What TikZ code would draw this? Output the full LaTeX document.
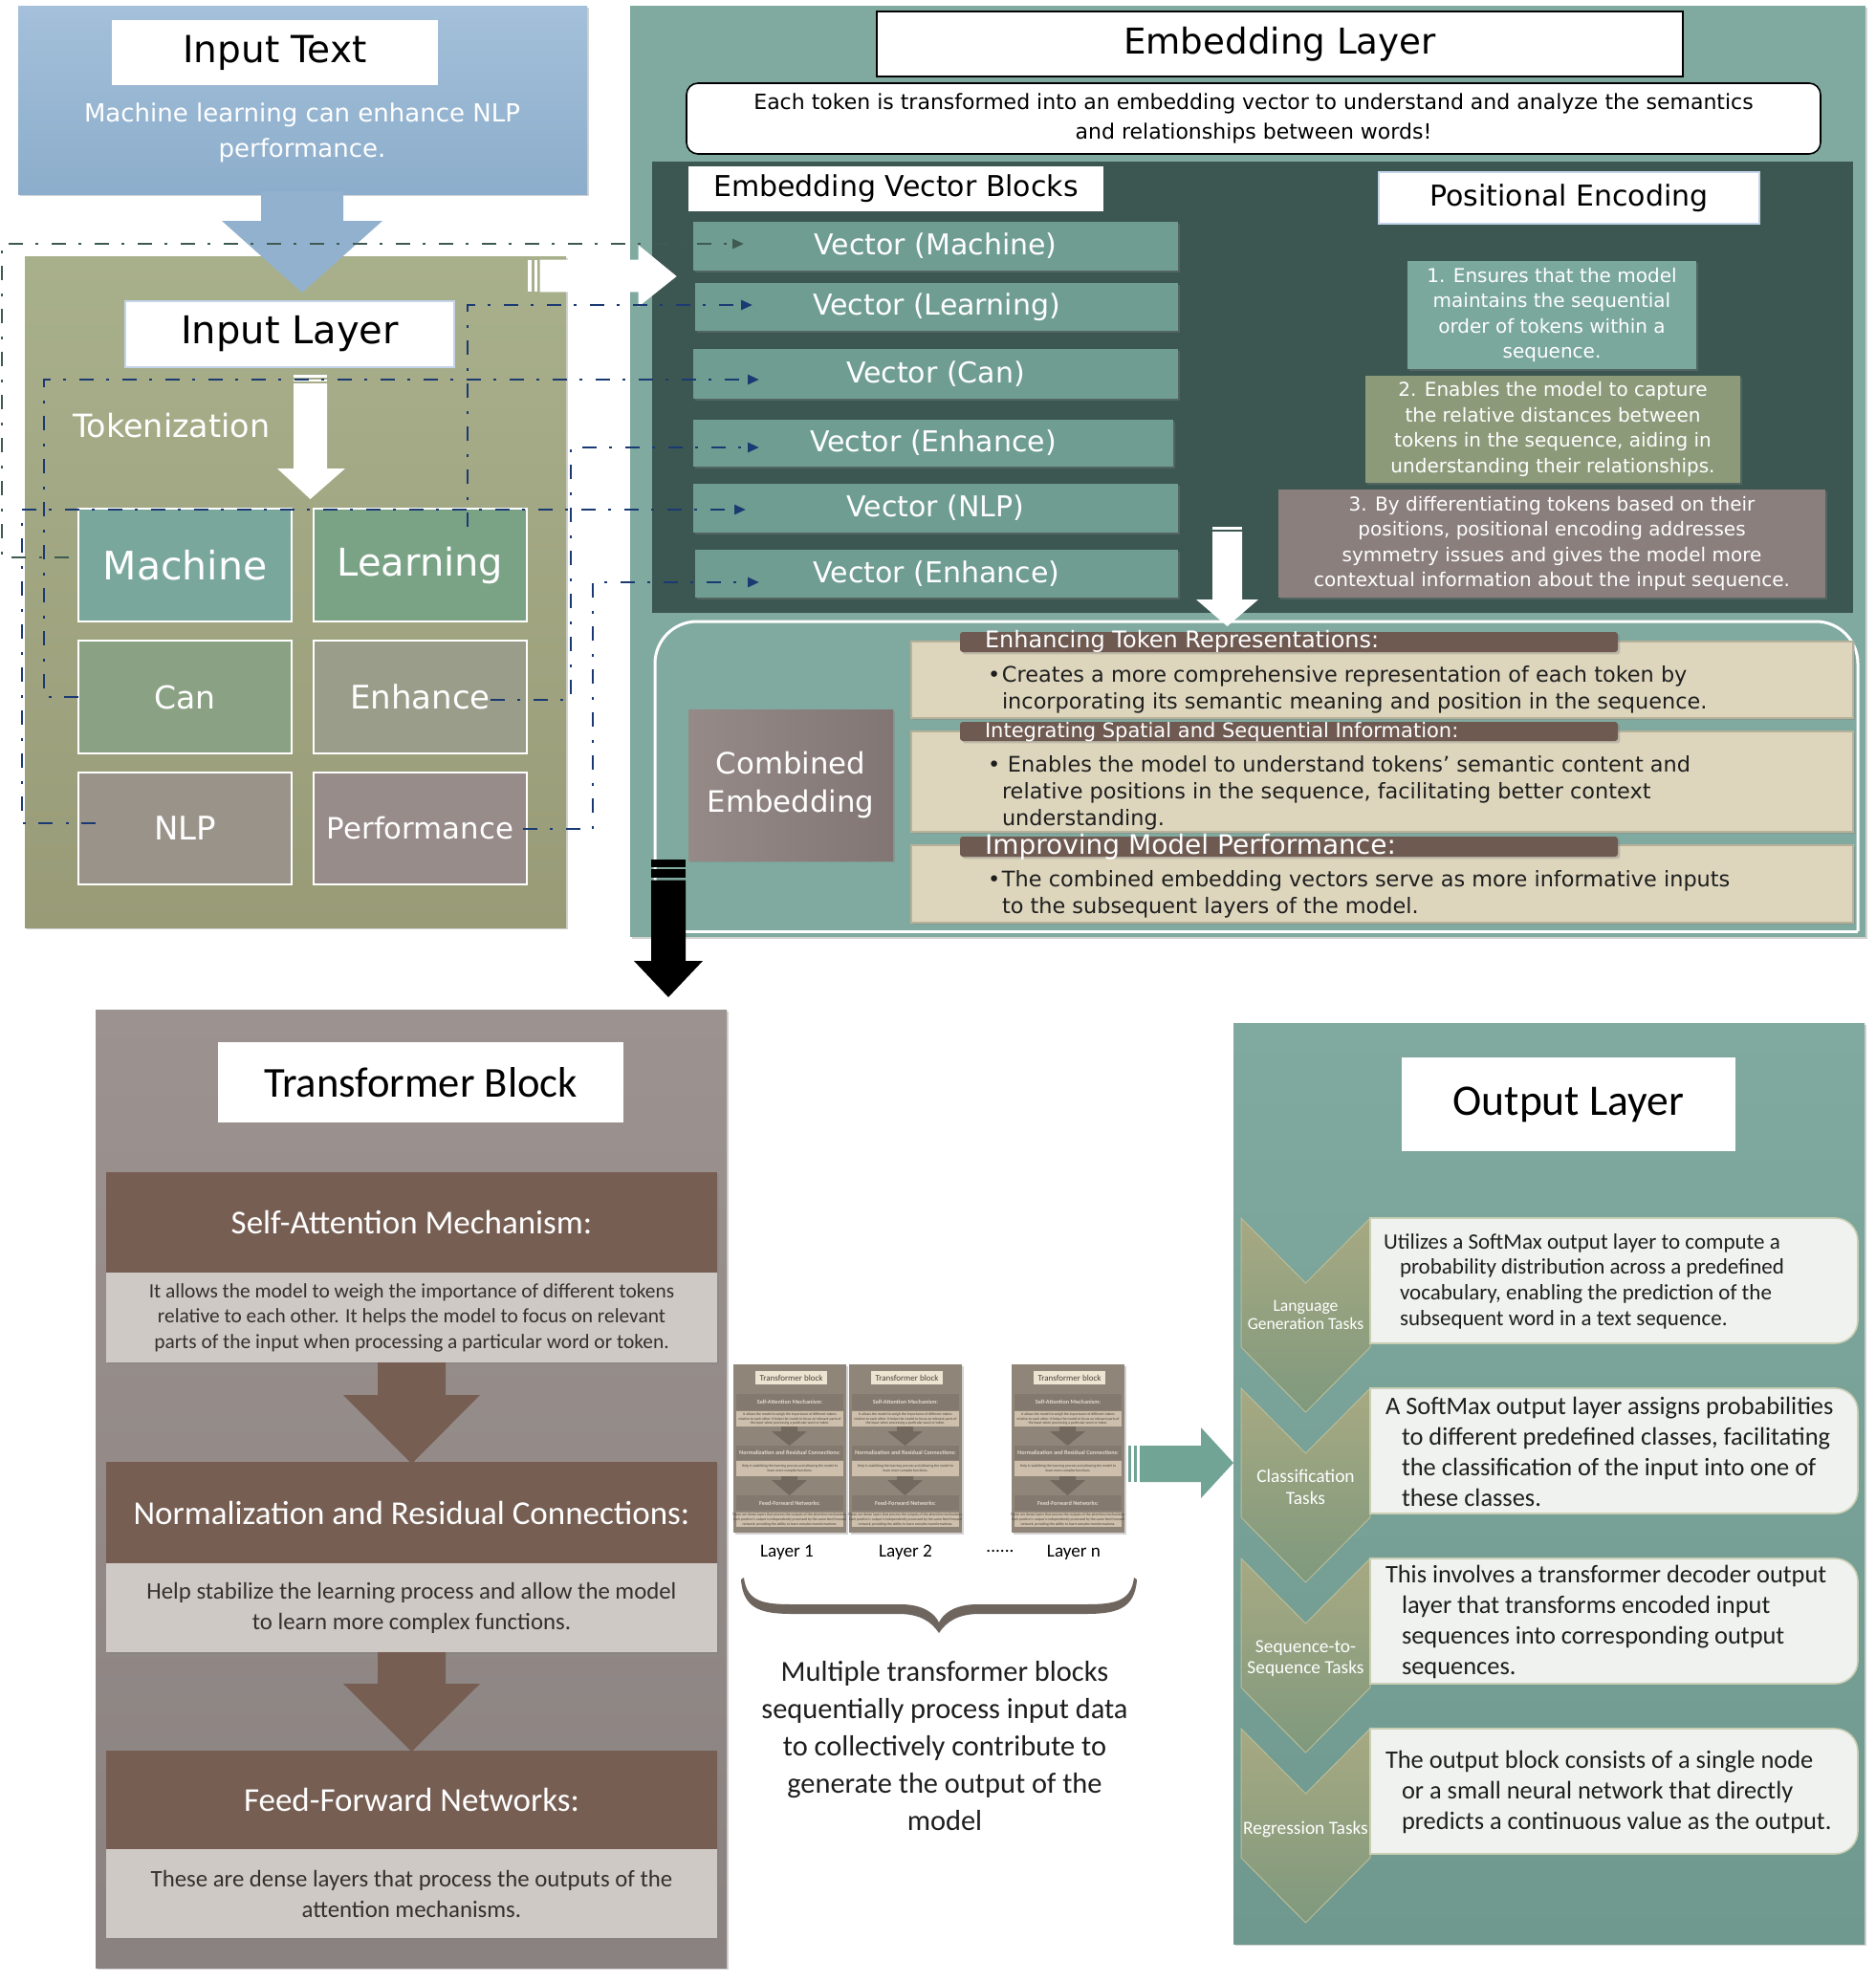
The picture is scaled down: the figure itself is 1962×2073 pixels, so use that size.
\documentclass[tikz,border=0pt]{standalone}
\usepackage{fontspec}
\setmainfont{DejaVu Sans}
\newfontfamily\dv{DejaVu Sans}
\newfontfamily\cb{Carlito}
\usetikzlibrary{fit,shadows,arrows.meta}
\newcommand\fsz[2]{\fontsize{#1}{#2}\selectfont}
\definecolor{blueT}{HTML}{A4C0DA}
\definecolor{blueB}{HTML}{8CADCB}
\definecolor{blueA}{HTML}{92B1CE}
\definecolor{ltblue}{HTML}{C3D3E8}
\definecolor{oliveT}{HTML}{A8B08B}
\definecolor{oliveB}{HTML}{999B77}
\definecolor{cMach}{HTML}{79A79C}
\definecolor{cLearn}{HTML}{7AA386}
\definecolor{cCan}{HTML}{8AA283}
\definecolor{cEnh}{HTML}{9A9D89}
\definecolor{cNLP}{HTML}{9A938A}
\definecolor{cPerf}{HTML}{978C8A}
\definecolor{embT}{HTML}{80AA9F}
\definecolor{darkP}{HTML}{3C5751}
\definecolor{vecC}{HTML}{6F9D91}
\definecolor{peA}{HTML}{7AA89D}
\definecolor{peB}{HTML}{8D9A7A}
\definecolor{peC}{HTML}{8A7F7D}
\definecolor{combL}{HTML}{968A88}
\definecolor{combR}{HTML}{827674}
\definecolor{beige}{HTML}{DDD6BD}
\definecolor{beigeB}{HTML}{B8B199}
\definecolor{hdrBr}{HTML}{6F5A51}
\definecolor{trT}{HTML}{9C9390}
\definecolor{trB}{HTML}{8A8280}
\definecolor{brn}{HTML}{765E53}
\definecolor{lgray}{HTML}{CFC9C6}
\definecolor{bodyT}{HTML}{35302D}
\definecolor{thBg}{HTML}{8F8579}
\definecolor{thHd}{HTML}{84796E}
\definecolor{thBd}{HTML}{CDBFAB}
\definecolor{thTi}{HTML}{EEE4D2}
\definecolor{thAr}{HTML}{74695F}
\definecolor{thTx}{HTML}{4A4038}
\definecolor{thHt}{HTML}{E2DACD}
\definecolor{braceC}{HTML}{6E655F}
\definecolor{tealA}{HTML}{72A496}
\definecolor{outT}{HTML}{80A99F}
\definecolor{outB}{HTML}{6F998E}
\definecolor{chT}{HTML}{A7A982}
\definecolor{chB}{HTML}{7F997D}
\definecolor{chD}{HTML}{B9BC98}
\definecolor{obox}{HTML}{F0F2F0}
\definecolor{oboxB}{HTML}{C9CFB3}
\definecolor{navy}{HTML}{1B3A73}
\definecolor{gline}{HTML}{3E5A51}
\definecolor{txtD}{HTML}{1E1E1E}

% box (fit) + centred text node: #1 box opts, #2 fit coords, #3 name, #4 text opts, #5 text
\newcommand\bxt[5]{\node[fit={#2}, #1] (#3) {};\node[#4] (#3T) at (#3.center) {#5};}

\newcommand\mkthumb[2]{%
\begin{scope}[shift={(#1,0)}]
\node[fit={(0,1427) (118,1603)}, fill=thBg, shd] (#2) {};
\bxt{fill=thTi}{(23,1434) (98,1448)}{#2t}{font=\cb\fsz{4.5}{5}, text=thTx}{Transformer block}
\bxt{fill=thHd}{(3,1458) (115,1475)}{#2h1}{font=\cb\bfseries\fsz{3.1}{4}, text=thHt}{Self-Attention Mechanism:}
\bxt{fill=thBd}{(3,1476) (115,1492)}{#2b1}{font=\cb\fsz{1.9}{2.3}, text=thTx, align=center}{It allows the model to weigh the importance of different tokens\\relative to each other. It helps the model to focus on relevant parts of\\the input when processing a particular word or token.}
\fill[thAr] (50,1492) -- (67,1492) -- (67,1497) -- (77,1497) -- (58.5,1512) -- (40,1497) -- (50,1497) -- cycle;
\bxt{fill=thHd}{(3,1512) (115,1527)}{#2h2}{font=\cb\bfseries\fsz{3.1}{4}, text=thHt}{Normalization and Residual Connections:}
\bxt{fill=thBd}{(3,1528) (115,1544)}{#2b2}{font=\cb\fsz{1.9}{2.3}, text=thTx, align=center}{Help in stabilizing the learning process and allowing the model to\\learn more complex functions.}
\fill[thAr] (50,1544) -- (67,1544) -- (67,1548) -- (77,1548) -- (58.5,1564) -- (40,1548) -- (50,1548) -- cycle;
\bxt{fill=thHd}{(3,1564) (115,1580)}{#2h3}{font=\cb\bfseries\fsz{3.1}{4}, text=thHt}{Feed-Forward Networks:}
\bxt{fill=thBd}{(3,1582) (115,1597)}{#2b3}{font=\cb\fsz{1.9}{2.3}, text=thTx, align=center}{These are dense layers that process the outputs of the attention mechanisms.\\Each position's output is independently processed by the same feed-forward\\network, providing the ability to learn complex transformations.}
\end{scope}}

\tikzset{
  shd/.style={drop shadow={shadow xshift=1.2pt, shadow yshift=-1.2pt, opacity=0.35}},
  tokbox/.style={draw=white, line width=1.2pt},
  vec/.style={fill=vecC, shd},
  vect/.style={text=white, font=\dv\fsz{15}{18}},
  pebox/.style={shd},
  pet/.style={text=white, font=\dv\fsz{10}{13.3}, align=center},
  bbox/.style={fill=beige, draw=beigeB, line width=0.8pt, shd},
  hdr/.style={fill=hdrBr, rounded corners=1.5pt, shd},
  hdrtext/.style={anchor=west, text=white},
  bodytext/.style={anchor=west, font=\dv\fsz{11.2}{14}, align=left, text=txtD},
  trhdr/.style={fill=brn, shd},
  trht/.style={text=white, font=\cb\fsz{17.5}{20}},
  trbody/.style={fill=lgray, shd},
  trbt/.style={text=bodyT, align=center},
  chev/.style={draw=chD, line width=0.5pt, top color=chT, bottom color=chB},
  obx/.style={fill=obox, draw=oboxB, line width=0.8pt},
  otext/.style={anchor=west, text=txtD, align=left},
  chlab/.style={text=white, align=center},
  gdash/.style={draw=gline, line width=1.35pt, dash pattern=on 7.5pt off 6.5pt on 1.5pt off 7pt, -{Triangle[length=6pt,width=5pt]}},
  ndash/.style={draw=navy, line width=1.35pt, dash pattern=on 7.5pt off 6.5pt on 1.5pt off 7pt, -{Triangle[length=6pt,width=5pt]}},
}

\begin{document}
\begin{tikzpicture}[x=0.5pt,y=-0.5pt, every node/.style={inner sep=0pt, outer sep=0pt}]
\useasboundingbox (0,0) rectangle (1962,2073);
\fill[white] (0,0) rectangle (1962,2073);

% ---------- Input Text ----------
\node[fit={(19,6) (614,203)}, top color=blueT, bottom color=blueB, shd] (inText) {};
\bxt{fill=white}{(117,21) (458,89)}{inTitle}{font=\dv\fsz{19.5}{23}}{Input Text}
\node[font=\dv\fsz{13}{18.5}, text=white, align=center] (inSent) at (316,139) {Machine learning can enhance NLP\\performance.};

% ---------- Input Layer ----------
\node[fit={(26,268) (592,970)}, top color=oliveT, bottom color=oliveB, shd] (inLayer) {};
\fill[blueA] (273,200) -- (359,200) -- (359,231) -- (400,231) -- (316,306) -- (232,231) -- (273,231) -- cycle;
\bxt{fill=white, draw=ltblue, line width=0.8pt}{(131,315) (475,384)}{ilTitle}{font=\dv\fsz{20}{24}}{Input Layer}
\fill[white] (307,392) rectangle (342,394.5);
\fill[white] (307,397) rectangle (342,399);
\fill[white] (307,401) -- (342,401) -- (342,490) -- (361,490) -- (324.5,522) -- (290,490) -- (307,490) -- cycle;
\node[anchor=west, font=\dv\fsz{16.7}{20}, text=white] (tok) at (76,445) {Tokenization};

\bxt{tokbox, fill=cMach}{(82,532) (305,650)}{tMach}{text=white, font=\dv\fsz{20.5}{24}}{Machine}
\bxt{tokbox, fill=cLearn}{(328,532) (551,650)}{tLearn}{text=white, font=\dv\fsz{20}{24}}{Learning}
\bxt{tokbox, fill=cCan}{(82,670) (305,788)}{tCan}{text=white, font=\dv\fsz{16.5}{20}}{Can}
\bxt{tokbox, fill=cEnh}{(328,670) (551,788)}{tEnh}{text=white, font=\dv\fsz{17}{20}}{Enhance}
\bxt{tokbox, fill=cNLP}{(82,808) (305,925)}{tNLP}{text=white, font=\dv\fsz{17}{20}}{NLP}
\bxt{tokbox, fill=cPerf}{(328,808) (551,925)}{tPerf}{text=white, font=\dv\fsz{15.4}{20}}{Performance}

% ---------- Embedding Layer ----------
\node[fit={(659,6) (1951,980)}, fill=embT, shd] (embPanel) {};
\bxt{fill=white, draw=black, line width=0.8pt}{(917,12) (1760,80)}{embTitle}{font=\dv\fsz{18.6}{22}}{Embedding Layer}
\bxt{fill=white, draw=black, line width=0.8pt, rounded corners=6pt}{(718,87) (1904,161)}{embDesc}{font=\dv\fsz{11}{15.5}, align=center}{Each token is transformed into an embedding vector to understand and analyze the semantics\\and relationships between words!}
\node[fit={(682,169) (1938,641)}, fill=darkP] (darkPanel) {};
\bxt{fill=white}{(720,174) (1154,221)}{evbTitle}{font=\dv\fsz{15}{18}}{Embedding Vector Blocks}
\bxt{fill=white, draw=ltblue, line width=0.8pt}{(1442,180) (1840,234)}{peTitle}{font=\dv\fsz{15}{18}}{Positional Encoding}

\bxt{vec}{(725,232) (1232,283)}{vMach}{vect}{Vector (Machine)}
\bxt{vec}{(727,296) (1232,346)}{vLearn}{vect}{Vector (Learning)}
\bxt{vec}{(725,365) (1232,417)}{vCan}{vect}{Vector (Can)}
\bxt{vec}{(725,439) (1227,488)}{vEnh}{vect}{Vector (Enhance)}
\bxt{vec}{(725,506) (1232,557)}{vNLP}{vect}{Vector (NLP)}
\bxt{vec}{(727,575) (1232,625)}{vEnhB}{vect}{Vector (Enhance)}

\bxt{pebox, fill=peA}{(1472,273) (1774,386)}{peOne}{pet}{1. Ensures that the model\\maintains the sequential\\order of tokens within a\\sequence.}
\bxt{pebox, fill=peB}{(1428,393) (1820,505)}{peTwo}{pet}{2. Enables the model to capture\\the relative distances between\\tokens in the sequence, aiding in\\understanding their relationships.}
\bxt{pebox, fill=peC}{(1337,512) (1909,625)}{peThree}{pet}{3. By differentiating tokens based on their\\positions, positional encoding addresses\\symmetry issues and gives the model more\\contextual information about the input sequence.}

\fill[white] (1268,551) rectangle (1299,553.5);
\fill[white] (1268,556) -- (1299,556) -- (1299,627) -- (1316,627) -- (1283.5,655) -- (1251,627) -- (1268,627) -- cycle;

% combined embedding
\draw[white, line width=1.5pt, rounded corners=22pt] (685,974) -- (685,650) -- (1943,650) -- (1943,974);
\draw[white, line width=1.5pt] (685,974) -- (1943,974);
\bxt{left color=combL, right color=combR, shd}{(720,742) (934,900)}{combE}{text=white, font=\dv\fsz{15.4}{20}, align=center}{Combined\\Embedding}

\node[bbox, fit={(953,671) (1938,751)}] (bOne) {};
\node[hdr, fit={(1004,661) (1692,682)}] (hOne) {};
\node[hdrtext, font=\dv\fsz{12}{14}] (hOneT) at (1030,671) {Enhancing Token Representations:};
\node[bodytext] (bOneT) at (1033,721) {\makebox[7.5pt][l]{\textbullet}Creates a more comprehensive representation of each token by\\\hspace*{7.5pt}incorporating its semantic meaning and position in the sequence.};

\node[bbox, fit={(953,765) (1938,870)}] (bTwo) {};
\node[hdr, fit={(1004,755) (1692,775)}] (hTwo) {};
\node[hdrtext, font=\dv\fsz{10.5}{13}] (hTwoT) at (1030,766) {Integrating Spatial and Sequential Information:};
\node[bodytext] (bTwoT) at (1033,829) {\makebox[10.5pt][l]{\textbullet}Enables the model to understand tokens’ semantic content and\\\hspace*{7.5pt}relative positions in the sequence, facilitating better context\\\hspace*{7.5pt}understanding.};

\node[bbox, fit={(953,884) (1938,965)}] (bThree) {};
\node[hdr, fit={(1004,875) (1692,896)}] (hThree) {};
\node[hdrtext, font=\dv\fsz{14}{16}] (hThreeT) at (1030,886) {Improving Model Performance:};
\node[bodytext] (bThreeT) at (1033,935) {\makebox[7.5pt][l]{\textbullet}The combined embedding vectors serve as more informative inputs\\\hspace*{7.5pt}to the subsequent layers of the model.};

% black arrow
\fill[black] (681,899) rectangle (717,906.5);
\fill[black] (681,908.5) rectangle (717,918);
\fill[black] (681,920.5) -- (717,920.5) -- (717,1005) -- (735,1005) -- (699,1043) -- (663,1005) -- (681,1005) -- cycle;

% white big right arrow
\fill[white] (552,272) rectangle (555.5,305);
\fill[white] (558.5,272) rectangle (562,305);
\draw[white, fill=white] (565,272) -- (668,272) -- (668,257) -- (707,289) -- (668,320) -- (668,305) -- (565,305) -- cycle;

% ---------- Transformer Block ----------
\node[fit={(100,1056) (760,2058)}, top color=trT, bottom color=trB, shd] (trPanel) {};
\bxt{fill=white}{(228,1090) (652,1174)}{trTitle}{font=\cb\fsz{22.3}{26}}{Transformer Block}
\bxt{trhdr}{(111,1226) (750,1331)}{saH}{trht}{Self-Attention Mechanism:}
\bxt{trbody}{(111,1331) (750,1425)}{saB}{trbt, font=\cb\fsz{10.7}{13.3}}{It allows the model to weigh the importance of different tokens\\relative to each other. It helps the model to focus on relevant\\parts of the input when processing a particular word or token.}
\fill[brn] (395,1425) -- (466,1425) -- (466,1459) -- (502,1459) -- (430.5,1531) -- (359,1459) -- (395,1459) -- cycle;
\bxt{trhdr}{(111,1529) (750,1635)}{nrH}{trht}{Normalization and Residual Connections:}
\bxt{trbody}{(111,1635) (750,1728)}{nrB}{trbt, font=\cb\fsz{12.4}{16}}{Help stabilize the learning process and allow the model\\to learn more complex functions.}
\fill[brn] (395,1728) -- (466,1728) -- (466,1761) -- (502,1761) -- (430.5,1832) -- (359,1761) -- (395,1761) -- cycle;
\bxt{trhdr}{(111,1831) (750,1934)}{ffH}{trht}{Feed-Forward Networks:}
\bxt{trbody}{(111,1934) (750,2027)}{ffB}{trbt, font=\cb\fsz{12.4}{16}}{These are dense layers that process the outputs of the\\attention mechanisms.}

% ---------- Layers ----------
\mkthumb{767}{thOne}
\mkthumb{888}{thTwo}
\mkthumb{1058}{thN}
\node[font=\cb\fsz{9.6}{11}] (labOne) at (823,1624) {Layer 1};
\node[font=\cb\fsz{9.6}{11}] (labTwo) at (947,1624) {Layer 2};
\node[font=\cb\fsz{9.6}{11}] (labDots) at (1046,1622) {......};
\node[font=\cb\fsz{9.6}{11}] (labN) at (1123,1624) {Layer n};

\fill[braceC] (778,1650) .. controls (781,1676) and (800,1678) .. (830,1678) -- (942,1678) .. controls (966,1678) and (978,1688) .. (982,1697) .. controls (986,1688) and (998,1678) .. (1022,1678) -- (1134,1678) .. controls (1164,1678) and (1183,1676) .. (1186,1650) -- (1189,1652) .. controls (1187,1684) and (1166,1688) .. (1134,1688) -- (1024,1688) .. controls (1002,1688) and (990,1696) .. (982,1708) .. controls (974,1696) and (962,1688) .. (940,1688) -- (830,1688) .. controls (798,1688) and (777,1684) .. (775,1652) -- cycle;

\node[font=\cb\fsz{15.2}{19.4}, align=center, text=txtD] (multi) at (988,1826) {Multiple transformer blocks\\sequentially process input data\\to collectively contribute to\\generate the output of the\\model};

% teal arrow
\fill[tealA] (1180,1512) rectangle (1183,1550);
\fill[tealA] (1186,1512) rectangle (1189,1550);
\fill[tealA] (1192,1512) -- (1256,1512) -- (1256,1493) -- (1290,1530) -- (1256,1567) -- (1256,1550) -- (1192,1550) -- cycle;

% ---------- Output Layer ----------
\node[fit={(1290,1070) (1950,2033)}, top color=outT, bottom color=outB, shd] (outPanel) {};
\bxt{fill=white}{(1466,1106) (1815,1204)}{outTitle}{font=\cb\fsz{22.8}{26}}{Output Layer}

\foreach \T in {1274,1452,1630,1808}{
  \path[chev] (1298,\T) -- (1365.5,\T+68) -- (1433,\T) -- (1433,\T+135) -- (1365.5,\T+203) -- (1298,\T+135) -- cycle;
  \path[obx] (1433,\T+131) -- (1433,\T) -- (1919,\T) arc[start angle=270, end angle=360, radius=24] -- (1943,\T+107) arc[start angle=0, end angle=90, radius=24] -- cycle;
}
\node[chlab, font=\cb\fsz{8.8}{9.5}] (lgLab) at (1365.5,1375) {Language\\Generation Tasks};
\node[chlab, font=\cb\fsz{9.7}{11.5}] (clLab) at (1365.5,1555) {Classification\\Tasks};
\node[chlab, font=\cb\fsz{9.7}{11}] (sqLab) at (1365.5,1735) {Sequence-to-\\Sequence Tasks};
\node[chlab, font=\cb\fsz{9.7}{11}] (rgLab) at (1365.5,1913) {Regression Tasks};

\node[otext, font=\cb\fsz{11.5}{13.3}] (oOne) at (1447,1340) {Utilizes a SoftMax output layer to compute a\\\hspace*{8.5pt}probability distribution across a predefined\\\hspace*{8.5pt}vocabulary, enabling the prediction of the\\\hspace*{8.5pt}subsequent word in a text sequence.};
\node[otext, font=\cb\fsz{13.2}{16}] (oTwo) at (1449,1518) {A SoftMax output layer assigns probabilities\\\hspace*{8.5pt}to different predefined classes, facilitating\\\hspace*{8.5pt}the classification of the input into one of\\\hspace*{8.5pt}these classes.};
\node[otext, font=\cb\fsz{13.2}{16}] (oThree) at (1449,1696) {This involves a transformer decoder output\\\hspace*{8.5pt}layer that transforms encoded input\\\hspace*{8.5pt}sequences into corresponding output\\\hspace*{8.5pt}sequences.};
\node[otext, font=\cb\fsz{13.2}{16}] (oFour) at (1449,1874) {The output block consists of a single node\\\hspace*{8.5pt}or a small neural network that directly\\\hspace*{8.5pt}predicts a continuous value as the output.};

% ---------- dashed connectors ----------
\coordinate (sM) at (72,583);  \coordinate (eM) at (778,255);
\coordinate (sL) at (489,551); \coordinate (eL) at (787,319);
\coordinate (eC) at (794,397);
\coordinate (sE) at (513,732); \coordinate (eE) at (794,468);
\coordinate (sN) at (100,861); \coordinate (eN) at (780,533);
\coordinate (sP) at (547,867); \coordinate (eP) at (794,609);
\draw[gdash] (sM) -- (2,583) -- (2,255) -- (eM);
\draw[ndash] (sL) -- (489,319) -- (eL);
\draw[ndash] (tCan.west) -- (46,729) -- (46,397) -- (eC);
\draw[ndash] (sE) -- (597,732) -- (597,468) -- (eE);
\draw[ndash] (sN) -- (23,861) -- (23,533) -- (eN);
\draw[ndash] (sP) -- (620,867) -- (620,609) -- (eP);
\end{tikzpicture}
\end{document}
